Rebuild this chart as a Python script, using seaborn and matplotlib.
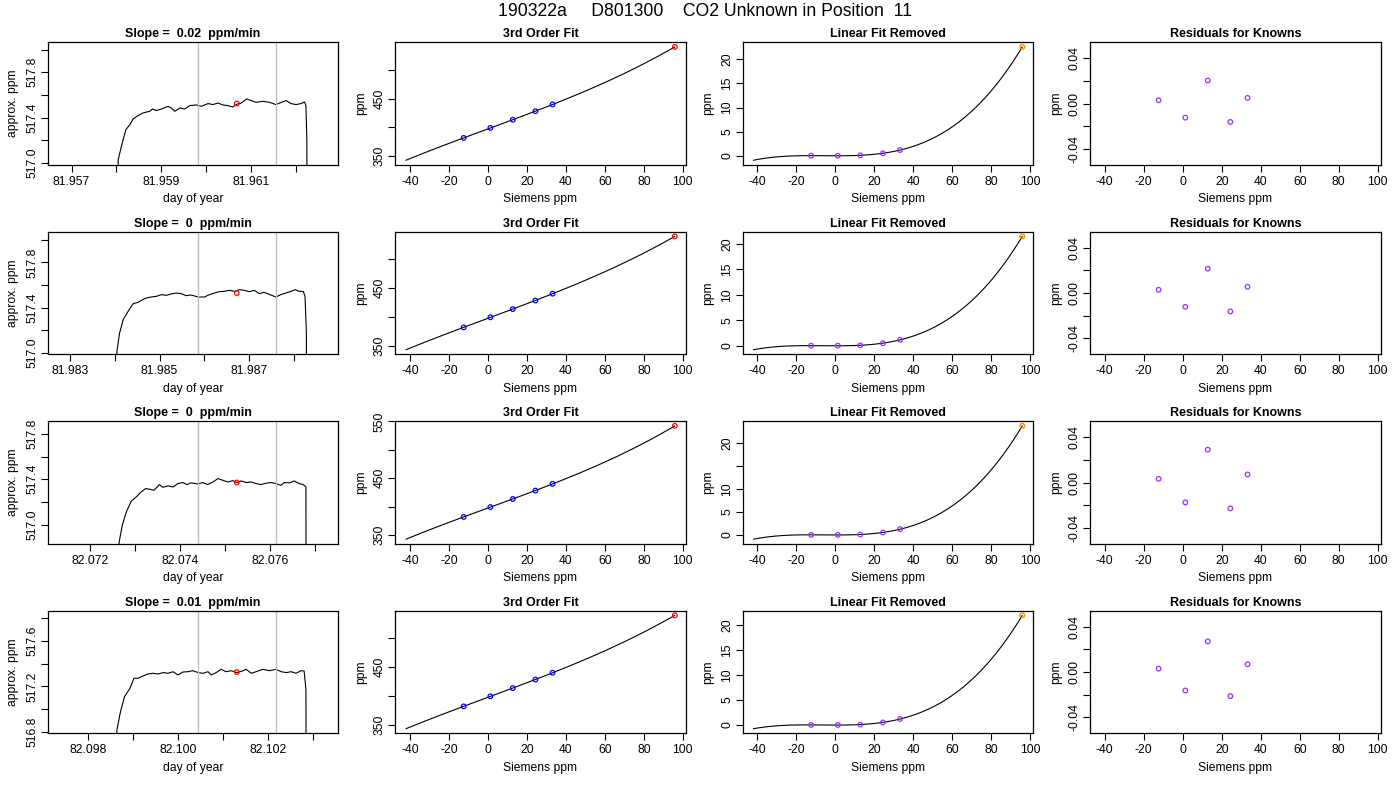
import numpy as np
import pandas as pd
import matplotlib
matplotlib.use("Agg")
import matplotlib.pyplot as plt
import seaborn as sns

run_id = "190322a"
tank_id = "D801300"
position = "11"

slopes = ["0.02", "0", "0", "0.01"]

# raw unknown traces (day of year, approx. ppm)
trace1_day = [81.95796, 81.95804, 81.95811, 81.95821, 81.95830, 81.95837, 81.95848, 81.95859,
              81.95874, 81.95880, 81.95889, 81.95900, 81.95915, 81.95922, 81.95930, 81.95941,
              81.95952, 81.95963, 81.95978, 81.95989, 81.96004, 81.96015, 81.96026, 81.96037,
              81.96048, 81.96059, 81.96068, 81.96078, 81.96090, 81.96100, 81.96111, 81.96126,
              81.96141, 81.96155, 81.96167, 81.96178, 81.96189, 81.96200, 81.96211, 81.96219,
              81.96222, 81.96224, 81.96227]
trace1_ppm = [515.5, 517.03, 517.147, 517.294, 517.338, 517.388, 517.418, 517.441,
              517.456, 517.476, 517.462, 517.476, 517.500, 517.485, 517.456, 517.485,
              517.476, 517.506, 517.512, 517.500, 517.524, 517.515, 517.529, 517.512,
              517.506, 517.494, 517.518, 517.529, 517.565, 517.550, 517.535, 517.544,
              517.535, 517.515, 517.535, 517.550, 517.524, 517.515, 517.524, 517.538,
              517.506, 517.206, 512.0]

trace2_day = [81.98401, 81.98405, 81.98411, 81.98419, 81.98430, 81.98441, 81.98452, 81.98463,
              81.98470, 81.98481, 81.98493, 81.98504, 81.98515, 81.98526, 81.98537, 81.98548,
              81.98559, 81.98570, 81.98586, 81.98600, 81.98611, 81.98622, 81.98633, 81.98644,
              81.98656, 81.98667, 81.98678, 81.98689, 81.98700, 81.98711, 81.98722, 81.98733,
              81.98746, 81.98759, 81.98770, 81.98781, 81.98793, 81.98802, 81.98811, 81.98820,
              81.98824, 81.98827, 81.98829]
trace2_ppm = [515.5, 517.015, 517.176, 517.294, 517.368, 517.435, 517.447, 517.471,
              517.485, 517.494, 517.500, 517.515, 517.509, 517.521, 517.529, 517.524,
              517.506, 517.512, 517.494, 517.494, 517.515, 517.529, 517.541, 517.544,
              517.553, 517.544, 517.559, 517.553, 517.541, 517.553, 517.524, 517.535,
              517.515, 517.494, 517.515, 517.529, 517.544, 517.559, 517.544, 517.544,
              517.500, 517.176, 512.0]

trace3_day = [82.07259, 82.07264, 82.07271, 82.07280, 82.07291, 82.07302, 82.07313, 82.07323,
              82.07332, 82.07341, 82.07347, 82.07354, 82.07361, 82.07373, 82.07384, 82.07395,
              82.07406, 82.07415, 82.07424, 82.07440, 82.07450, 82.07461, 82.07473, 82.07484,
              82.07495, 82.07506, 82.07517, 82.07526, 82.07536, 82.07547, 82.07558, 82.07569,
              82.07580, 82.07591, 82.07602, 82.07613, 82.07624, 82.07632, 82.07643, 82.07654,
              82.07665, 82.07674, 82.07680, 82.07681]
trace3_ppm = [515.5, 516.847, 516.994, 517.112, 517.206, 517.244, 517.288, 517.318,
              517.312, 517.303, 517.324, 517.353, 517.329, 517.341, 517.332, 517.362,
              517.371, 517.353, 517.368, 517.359, 517.371, 517.353, 517.376, 517.406,
              517.391, 517.376, 517.388, 517.371, 517.385, 517.371, 517.376, 517.362,
              517.353, 517.365, 517.371, 517.362, 517.347, 517.371, 517.368, 517.385,
              517.362, 517.353, 517.332, 512.0]

trace4_day = [82.09861, 82.09864, 82.09872, 82.09881, 82.09893, 82.09902, 82.09911, 82.09922,
              82.09933, 82.09944, 82.09956, 82.09967, 82.09978, 82.09989, 82.10000, 82.10011,
              82.10022, 82.10033, 82.10045, 82.10056, 82.10067, 82.10074, 82.10085, 82.10096,
              82.10107, 82.10119, 82.10131, 82.10141, 82.10152, 82.10163, 82.10174, 82.10189,
              82.10204, 82.10218, 82.10230, 82.10241, 82.10252, 82.10263, 82.10274, 82.10281,
              82.10285, 82.10287]
trace4_ppm = [515.5, 516.815, 516.976, 517.109, 517.182, 517.271, 517.271, 517.291,
              517.309, 517.315, 517.309, 517.321, 517.315, 517.329, 517.300, 517.326,
              517.329, 517.338, 517.321, 517.315, 517.329, 517.300, 517.321, 517.350,
              517.329, 517.338, 517.321, 517.332, 517.350, 517.315, 517.329, 517.350,
              517.338, 517.350, 517.329, 517.321, 517.329, 517.315, 517.338, 517.335,
              517.168, 512.0]

trace_days = [trace1_day, trace2_day, trace3_day, trace4_day]
trace_ppms = [trace1_ppm, trace2_ppm, trace3_ppm, trace4_ppm]

# averaging window and its mean
window_start = [81.95982, 81.98586, 82.07440, 82.10045]
window_end = [81.96155, 81.98759, 82.07613, 82.10218]
mean_day = [81.96068, 81.98672, 82.07526, 82.10131]
mean_ppm = [517.524, 517.529, 517.371, 517.326]

# standards (Siemens ppm) and the unknown
known_siemens = [-12.4, 1.3, 12.8, 24.4, 33.2]
known_ppm = [381.8, 399.2, 413.4, 428.2, 440.0]
unknown_siemens = 95.9
unknown_ppm = [540.0, 538.9, 542.1, 539.3]
curve_start = -42.0

# linear fit removed
lin_removed_known = [
    [0.0, 0.0, 0.07, 0.49, 1.18],
    [0.0, 0.0, 0.07, 0.48, 1.16],
    [0.0, 0.0, 0.07, 0.51, 1.25],
    [0.0, 0.0, 0.07, 0.50, 1.20],
]
lin_removed_unknown = [22.6, 21.5, 23.8, 21.9]

# residuals for knowns
residuals = [
    [0.0029, -0.0124, 0.0203, -0.0162, 0.0050],
    [0.0029, -0.0121, 0.0215, -0.0162, 0.0056],
    [0.0033, -0.0175, 0.0290, -0.0228, 0.0071],
    [0.0030, -0.0163, 0.0270, -0.0213, 0.0068],
]

sns.set_style("ticks")
plt.rcParams["font.family"] = ["Liberation Sans", "DejaVu Sans"]
plt.rcParams.update({
    "axes.edgecolor": "black", "axes.linewidth": 0.9, "text.color": "black",
    "axes.labelcolor": "black", "xtick.color": "black", "ytick.color": "black",
    "xtick.major.size": 5.3, "ytick.major.size": 5.3,
    "xtick.major.width": 0.8, "ytick.major.width": 0.8,
    "xtick.labelsize": 8.7, "ytick.labelsize": 8.7, "axes.labelsize": 8.7,
    "xtick.major.pad": 2.5, "ytick.major.pad": 1.5,
})

PURPLE = "#9B30FF"
MS = 11


def r_ticks(ax, which, step, lo, hi, fmt, every_other=True, hide=()):
    first = np.ceil(lo / step - 1e-6) * step
    vals = np.arange(first, hi + step * 1e-6, step)
    labels = []
    for i, v in enumerate(vals):
        if abs(v) < step * 1e-6:
            v = 0.0
        txt = fmt.format(v)
        if (every_other and i % 2 == 1) or txt in hide:
            txt = ""
        labels.append(txt)
    if which == "x":
        ax.set_xticks(vals, labels)
    else:
        ax.set_yticks(vals, labels)
        for t in ax.get_yticklabels():
            t.set_rotation(90)
            t.set_va("center")


def r_ylim(ax):
    ax.set_ymargin(0.04)
    ax.autoscale(axis="y")
    return ax.get_ylim()


fig, axes = plt.subplots(4, 4, figsize=(14, 8), dpi=100)
plt.subplots_adjust(left=0.0341, right=0.9862, top=0.9471, bottom=0.0834,
                    wspace=0.196, hspace=0.547)

sx_lim = (-47.5, 101.5)

for r in range(4):
    # column 1: raw trace
    ax = axes[r, 0]
    df = pd.DataFrame({"day": trace_days[r], "ppm": trace_ppms[r]})
    sns.lineplot(data=df, x="day", y="ppm", ax=ax, color="black", lw=0.8,
                 estimator=None, sort=False)
    ax.axvline(window_start[r], color="#BEBEBE", lw=1)
    ax.axvline(window_end[r], color="#BEBEBE", lw=1)
    sns.scatterplot(x=[mean_day[r]], y=[mean_ppm[r]], ax=ax, s=MS,
                    facecolor="none", edgecolor="red", linewidth=0.9, zorder=5)
    lo = window_start[r] - 0.00335
    xl = (lo, lo + 0.00647)
    yl = (mean_ppm[r] - 0.54, mean_ppm[r] + 0.54)
    ax.set_xlim(xl)
    ax.set_ylim(yl)
    r_ticks(ax, "x", 0.001, *xl, "{:.3f}")
    r_ticks(ax, "y", 0.2, *yl, "{:.1f}")
    ax.set_xlabel("day of year")
    ax.set_ylabel("approx. ppm")
    ax.set_title(f"Slope =  {slopes[r]}  ppm/min", fontsize=9, fontweight="bold", pad=3.5)

    # column 2: 3rd order fit
    ax = axes[r, 1]
    xs = known_siemens + [unknown_siemens]
    ys = known_ppm + [unknown_ppm[r]]
    ax.set_xlim(curve_start, unknown_siemens)
    sns.regplot(x=np.array(xs), y=np.array(ys), order=3, ci=None, scatter=False,
                truncate=False, ax=ax, line_kws={"color": "black", "lw": 0.8})
    sns.scatterplot(x=known_siemens, y=known_ppm, ax=ax, s=MS, facecolor="none",
                    edgecolor="blue", linewidth=0.9, zorder=5)
    sns.scatterplot(x=[unknown_siemens], y=[unknown_ppm[r]], ax=ax, s=MS,
                    facecolor="none", edgecolor="red", linewidth=0.9, zorder=5)
    ax.set_xlim(sx_lim)
    yl = r_ylim(ax)
    ax.set_ylim(yl)
    r_ticks(ax, "x", 20, *sx_lim, "{:.0f}", every_other=False)
    r_ticks(ax, "y", 50, *yl, "{:.0f}")
    ax.set_xlabel("Siemens ppm")
    ax.set_ylabel("ppm")
    ax.set_title("3rd Order Fit", fontsize=9, fontweight="bold", pad=3.5)

    # column 3: linear fit removed
    ax = axes[r, 2]
    ys = lin_removed_known[r] + [lin_removed_unknown[r]]
    ax.set_xlim(curve_start, unknown_siemens)
    sns.regplot(x=np.array(xs), y=np.array(ys), order=3, ci=None, scatter=False,
                truncate=False, ax=ax, line_kws={"color": "black", "lw": 0.8})
    sns.scatterplot(x=known_siemens, y=lin_removed_known[r], ax=ax, s=MS,
                    facecolor="none", edgecolor=PURPLE, linewidth=0.9, zorder=5)
    sns.scatterplot(x=[unknown_siemens], y=[lin_removed_unknown[r]], ax=ax, s=MS,
                    facecolor="none", edgecolor="#FF8C00", linewidth=1.0, zorder=5)
    ax.set_xlim(sx_lim)
    yl = r_ylim(ax)
    ax.set_ylim(yl)
    r_ticks(ax, "x", 20, *sx_lim, "{:.0f}", every_other=False)
    hide = ("15", "25") if yl[1] - yl[0] > 26 else ("25",)
    r_ticks(ax, "y", 5, *yl, "{:.0f}", every_other=False, hide=hide)
    ax.set_xlabel("Siemens ppm")
    ax.set_ylabel("ppm")
    ax.set_title("Linear Fit Removed", fontsize=9, fontweight="bold", pad=3.5)

    # column 4: residuals
    ax = axes[r, 3]
    sns.scatterplot(x=known_siemens, y=residuals[r], ax=ax, s=MS, facecolor="none",
                    edgecolor=PURPLE, linewidth=0.9, zorder=5)
    yl = (-0.054, 0.054)
    ax.set_xlim(sx_lim)
    ax.set_ylim(yl)
    r_ticks(ax, "x", 20, *sx_lim, "{:.0f}", every_other=False)
    r_ticks(ax, "y", 0.02, *yl, "{:.2f}")
    ax.set_xlabel("Siemens ppm")
    ax.set_ylabel("ppm")
    ax.set_title("Residuals for Knowns", fontsize=9, fontweight="bold", pad=3.5)

for ax in axes.flat:
    for s in ax.spines.values():
        s.set_visible(True)
    ax.xaxis.labelpad = 4
    ax.yaxis.labelpad = 5

fig.text(0.5036, 0.986, f"{run_id}     {tank_id}    CO2 Unknown in Position  {position}",
         ha="center", va="center", fontsize=12.7)

fig.savefig("out.png", dpi=100)
